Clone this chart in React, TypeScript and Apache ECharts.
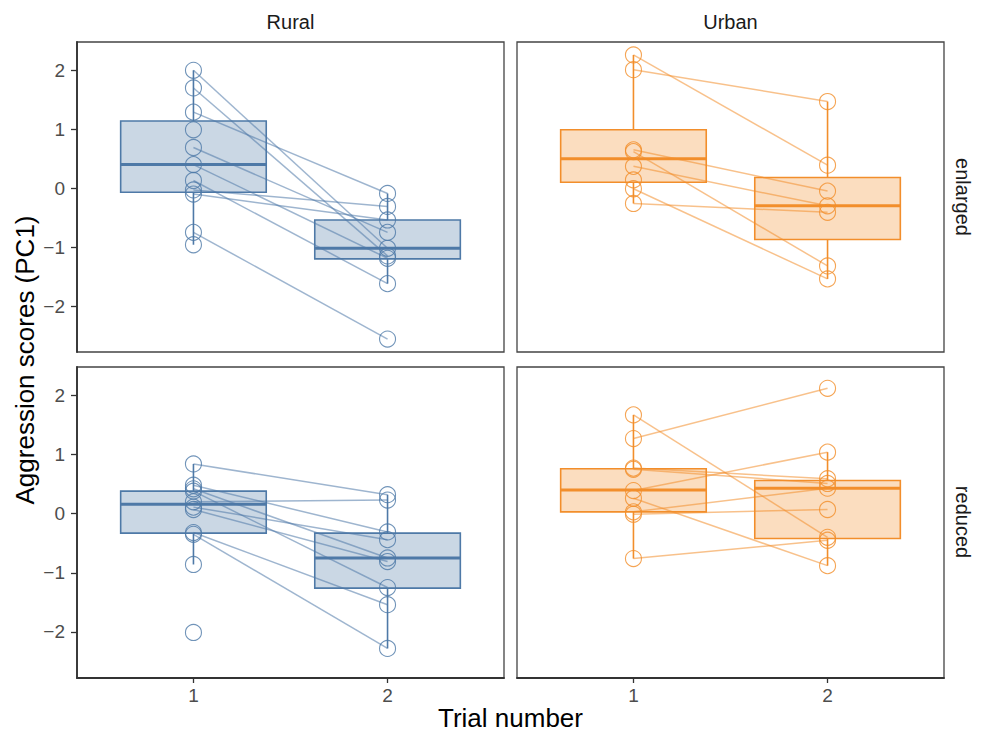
import React, { useEffect, useRef } from "react";
import * as echarts from "echarts";

// ---------- data ----------
const trials = [1, 2];
const yTicks = [-2, -1, 0, 1, 2];
const columns = ["Rural", "Urban"];
const rows = ["enlarged", "reduced"];

// paired scores per subject (trial 1, trial 2); null = no score in that trial
const ruralEnlargedT1 = [2.0, 1.7, 1.29, 0.99, 0.69, 0.4, 0.13, -0.03, -0.1, -0.75, -0.96];
const ruralEnlargedT2 = [-1.02, -1.15, -0.09, null, -0.75, -1.19, -1.62, -0.31, -0.54, -2.56, null];

const urbanEnlargedT1 = [2.26, 2.01, 0.65, 0.62, 0.37, -0.26, -0.01, 0.14];
const urbanEnlargedT2 = [0.39, 1.47, -0.05, -1.32, -0.3, -0.41, -1.54, null];

const ruralReducedT1 = [0.84, 0.48, 0.42, 0.38, 0.2, 0.11, 0.07, -0.32, -0.35, -0.86, -2.01];
const ruralReducedT2 = [0.32, -0.31, -0.75, -1.25, 0.23, -0.44, -0.81, -1.54, -2.28, null, null];

const urbanReducedT1 = [1.27, 1.67, 0.77, 0.75, 0.39, 0.26, 0.03, -0.01, -0.76];
const urbanReducedT2 = [2.12, -0.4, 0.59, 0.51, 1.04, -0.88, 0.43, 0.07, -0.45];

// box statistics per trial: [lower whisker, Q1, median, Q3, upper whisker]
const ruralEnlargedBox1 = [-0.96, -0.07, 0.4, 1.14, 2.0];
const ruralEnlargedBox2 = [-1.62, -1.2, -1.02, -0.54, -0.09];
const urbanEnlargedBox1 = [-0.26, 0.1, 0.5, 0.99, 2.26];
const urbanEnlargedBox2 = [-1.54, -0.87, -0.3, 0.18, 1.47];
const ruralReducedBox1 = [-0.86, -0.33, 0.16, 0.38, 0.84];
const ruralReducedBox2 = [-2.28, -1.26, -0.75, -0.33, 0.32];
const urbanReducedBox1 = [-0.76, 0.03, 0.4, 0.76, 1.67];
const urbanReducedBox2 = [-0.88, -0.42, 0.43, 0.56, 1.04];

// ---------- styles ----------
const BLUE = "#4e79a7";
const ORANGE = "#f28e2b";
const FONT = "'Liberation Sans', Arial, Helvetica, sans-serif";
const HALF = 0.375;

const panels = [
  { t1: ruralEnlargedT1, t2: ruralEnlargedT2, b1: ruralEnlargedBox1, b2: ruralEnlargedBox2, color: BLUE, fill: "rgba(78,121,167,0.3)", line: "rgba(78,121,167,0.55)" },
  { t1: urbanEnlargedT1, t2: urbanEnlargedT2, b1: urbanEnlargedBox1, b2: urbanEnlargedBox2, color: ORANGE, fill: "rgba(242,142,43,0.3)", line: "rgba(242,142,43,0.55)" },
  { t1: ruralReducedT1, t2: ruralReducedT2, b1: ruralReducedBox1, b2: ruralReducedBox2, color: BLUE, fill: "rgba(78,121,167,0.3)", line: "rgba(78,121,167,0.55)" },
  { t1: urbanReducedT1, t2: urbanReducedT2, b1: urbanReducedBox1, b2: urbanReducedBox2, color: ORANGE, fill: "rgba(242,142,43,0.3)", line: "rgba(242,142,43,0.55)" },
];

const gridRects = [
  { left: 77, top: 42, width: 427, height: 310 },
  { left: 517, top: 42, width: 427, height: 310 },
  { left: 77, top: 367, width: 427, height: 311 },
  { left: 517, top: 367, width: 427, height: 311 },
];

const fmt = (v: number) => (v < 0 ? "\u2212" + Math.abs(v) : String(v));

function makeRenderBox(color: string, fill: string) {
  return (_params: any, api: any) => {
    const x = api.value(0);
    const lo = api.value(1);
    const q1 = api.value(2);
    const med = api.value(3);
    const q3 = api.value(4);
    const hi = api.value(5);
    const pHi = api.coord([x, hi]);
    const pQ3 = api.coord([x, q3]);
    const pQ1 = api.coord([x, q1]);
    const pLo = api.coord([x, lo]);
    const tl = api.coord([x - HALF, q3]);
    const br = api.coord([x + HALF, q1]);
    const mL = api.coord([x - HALF, med]);
    const mR = api.coord([x + HALF, med]);
    return {
      type: "group",
      children: [
        { type: "line", shape: { x1: pHi[0], y1: pHi[1], x2: pQ3[0], y2: pQ3[1] }, style: { stroke: color, lineWidth: 1.6 } },
        { type: "line", shape: { x1: pQ1[0], y1: pQ1[1], x2: pLo[0], y2: pLo[1] }, style: { stroke: color, lineWidth: 1.6 } },
        { type: "rect", shape: { x: tl[0], y: tl[1], width: br[0] - tl[0], height: br[1] - tl[1] }, style: { fill, stroke: color, lineWidth: 1.6 } },
        { type: "line", shape: { x1: mL[0], y1: mL[1], x2: mR[0], y2: mR[1] }, style: { stroke: color, lineWidth: 3 } },
      ],
    };
  };
}

export default function App() {
  const ref = useRef<HTMLDivElement>(null);

  useEffect(() => {
    if (!ref.current) return;
    const chart = echarts.init(ref.current, undefined, { renderer: "svg" });

    const grid = gridRects.map((r) => ({
      ...r,
      show: true,
      borderColor: "#444444",
      borderWidth: 1.3,
      backgroundColor: "#ffffff",
    }));

    const xAxis = gridRects.map((_, i) => {
      const bottom = i >= 2;
      return {
        type: "value",
        gridIndex: i,
        min: 0.4,
        max: 2.6,
        splitLine: { show: false },
        axisLine: { show: bottom, onZero: false, lineStyle: { color: "#333333", width: 1.8 } },
        axisTick: { show: bottom, customValues: trials, length: 5, lineStyle: { color: "#333333", width: 1.3 } },
        axisLabel: { show: bottom, customValues: trials, fontSize: 19, color: "#4d4d4d", margin: 8, fontFamily: FONT },
      };
    });

    const yAxis = gridRects.map((_, i) => {
      const left = i % 2 === 0;
      return {
        type: "value",
        gridIndex: i,
        min: -2.78,
        max: 2.48,
        splitLine: { show: false },
        axisLine: { show: left, onZero: false, lineStyle: { color: "#333333", width: 1.8 } },
        axisTick: { show: left, customValues: yTicks, length: 6, lineStyle: { color: "#333333", width: 1.3 } },
        axisLabel: { show: left, customValues: yTicks, fontSize: 19, color: "#4d4d4d", margin: 12, fontFamily: FONT, formatter: fmt },
      };
    });

    const series: any[] = [];
    panels.forEach((p, i) => {
      series.push({
        type: "custom",
        xAxisIndex: i,
        yAxisIndex: i,
        renderItem: makeRenderBox(p.color, p.fill),
        encode: { x: 0, y: [1, 2, 3, 4, 5] },
        data: [
          [trials[0], ...p.b1],
          [trials[1], ...p.b2],
        ],
        silent: true,
        z: 1,
      });
      const pairs: any[] = [];
      p.t1.forEach((v, k) => {
        const w = p.t2[k];
        if (v !== null && w !== null && w !== undefined) {
          pairs.push({ coords: [[trials[0], v], [trials[1], w]] });
        }
      });
      series.push({
        type: "lines",
        coordinateSystem: "cartesian2d",
        xAxisIndex: i,
        yAxisIndex: i,
        data: pairs,
        lineStyle: { color: p.line, width: 1.5, opacity: 1 },
        silent: true,
        z: 2,
      });
      const pts: number[][] = [];
      p.t1.forEach((v) => { if (v !== null) pts.push([trials[0], v]); });
      p.t2.forEach((v) => { if (v !== null) pts.push([trials[1], v as number]); });
      series.push({
        type: "scatter",
        xAxisIndex: i,
        yAxisIndex: i,
        data: pts,
        symbol: "circle",
        symbolSize: 16,
        itemStyle: { color: "rgba(255,255,255,0)", borderColor: p.color, borderWidth: 1.1 },
        silent: true,
        z: 3,
      });
    });

    const textStyle = (size: number, color: string) => ({
      fontSize: size,
      fontFamily: FONT,
      fill: color,
      align: "center",
      verticalAlign: "middle",
      textAlign: "center",
      textVerticalAlign: "middle",
    });

    const graphic: any[] = [
      { type: "text", x: 290.5, y: 22, style: { text: columns[0], ...textStyle(20, "#1a1a1a") } },
      { type: "text", x: 730.5, y: 22, style: { text: columns[1], ...textStyle(20, "#1a1a1a") } },
      { type: "text", x: 963, y: 197, rotation: -Math.PI / 2, style: { text: rows[0], ...textStyle(20, "#1a1a1a") } },
      { type: "text", x: 963, y: 522, rotation: -Math.PI / 2, style: { text: rows[1], ...textStyle(20, "#1a1a1a") } },
      { type: "text", x: 25, y: 360, rotation: Math.PI / 2, style: { text: "Aggression scores (PC1)", ...textStyle(26, "#000000") } },
      { type: "text", x: 510.5, y: 718, style: { text: "Trial number", ...textStyle(26, "#000000") } },
    ];

    chart.setOption({
      animation: false,
      backgroundColor: "#ffffff",
      grid,
      xAxis,
      yAxis,
      series,
      graphic,
    });

    return () => chart.dispose();
  }, []);

  return (
    <div
      ref={ref}
      style={{ position: "fixed", left: 0, top: 0, width: 984, height: 739, background: "#fff" }}
    />
  );
}
